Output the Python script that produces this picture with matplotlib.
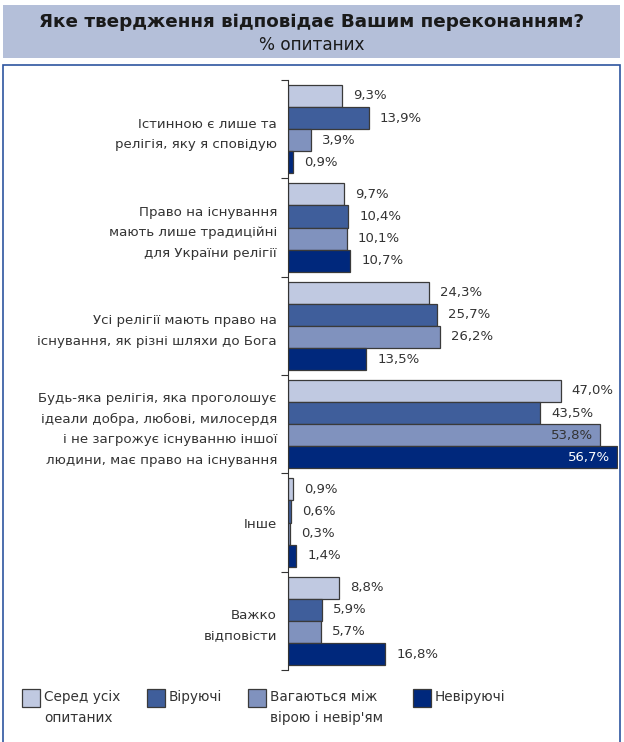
import matplotlib
matplotlib.use('Agg')
import matplotlib.pyplot as plt
from matplotlib.patches import Rectangle
import numpy as np

plt.rcParams['font.family'] = ['DejaVu Sans']

categories = [
    'Істинною є лише та\nрелігія, яку я сповідую',
    'Право на існування\nмають лише традиційні\nдля України релігії',
    'Усі релігії мають право на\nіснування, як різні шляхи до Бога',
    'Будь-яка релігія, яка проголошує\nідеали добра, любові, милосердя\nі не загрожує існуванню іншої\nлюдини, має право на існування',
    'Інше',
    'Важко\nвідповісти',
]
series = ['Серед усіх\nопитаних', 'Віруючі', 'Вагаються між\nвірою і невір\'ям', 'Невіруючі']
all_resp = [9.3, 9.7, 24.3, 47.0, 0.9, 8.8]
believers = [13.9, 10.4, 25.7, 43.5, 0.6, 5.9]
hesitant = [3.9, 10.1, 26.2, 53.8, 0.3, 5.7]
nonbelievers = [0.9, 10.7, 13.5, 56.7, 1.4, 16.8]
values = [all_resp, believers, hesitant, nonbelievers]
colors = ['#c0c9e1', '#3f5e9b', '#8092be', '#00287c']

W, H = 624, 742
fig = plt.figure(figsize=(W / 100, H / 100), dpi=100)

# шапка
fig.patches.append(Rectangle((3 / W, 1 - 58 / H), 617 / W, 53 / H, transform=fig.transFigure,
                             facecolor='#b4bfd9', edgecolor='none', zorder=0))
fig.text(0.5, 1 - 22 / H, 'Яке твердження відповідає Вашим переконанням?', ha='center', va='center',
         fontsize=13.2, fontweight='bold', color='#1a1a1a')
fig.text(0.5, 1 - 45 / H, '% опитаних', ha='center', va='center', fontsize=12.2, color='#1a1a1a')
# рамка
fig.patches.append(Rectangle((3 / W, -0.01), 617 / W, 1 - 65 / H + 0.01, transform=fig.transFigure,
                             facecolor='none', edgecolor='#2d55a0', linewidth=1.2, zorder=0))

ax = fig.add_axes([288 / W, 72 / H, (618 - 288) / W, (670 - 80) / H])
bh = 0.225
for j, (vals, c) in enumerate(zip(values, colors)):
    ys = np.arange(len(categories)) + 0.05 + (j + 0.5) * bh
    ax.barh(ys, vals, height=bh, color=c, edgecolor='#3a3a3a', linewidth=0.9)
    for y, v in zip(ys, vals):
        txt = f'{v:.1f}%'.replace('.', ',')
        if v > 50:
            ax.annotate(txt, (v, y), xytext=(-5, 0), textcoords='offset points', ha='right', va='center',
                        fontsize=9.5, color='white' if j == 3 else '#333333')
        else:
            ax.annotate(txt, (v, y), xytext=(8, 0), textcoords='offset points', ha='left', va='center',
                        fontsize=9.5, color='#333333')

ax.set_xlim(0, (618 - 288) / 5.8)
ax.set_ylim(len(categories), 0)
ax.set_yticks(np.arange(len(categories) + 1))
ax.set_yticklabels([])
ax.set_yticks(np.arange(len(categories)) + 0.5, minor=True)
ax.set_yticklabels(categories, minor=True, fontsize=9.6, color='#333333', linespacing=1.75)
ax.tick_params(axis='y', which='major', length=5, color='#333333', direction='out')
ax.tick_params(axis='y', which='minor', length=0, pad=8)
ax.set_xticks([])
for s in ['top', 'right', 'bottom']:
    ax.spines[s].set_visible(False)
ax.spines['left'].set_color('#333333')

# легенда
leg_x = [22, 147, 248, 413]
for x, c, lab in zip(leg_x, colors, series):
    fig.patches.append(Rectangle((x / W, 1 - 707 / H), 18 / W, 18 / H, transform=fig.transFigure,
                                 facecolor=c, edgecolor='#3a3a3a', linewidth=0.9))
    fig.text((x + 22) / W, 1 - 690 / H, lab, ha='left', va='top', fontsize=9.8, color='#333333',
             linespacing=1.6)

fig.savefig('out.png', dpi=100)
